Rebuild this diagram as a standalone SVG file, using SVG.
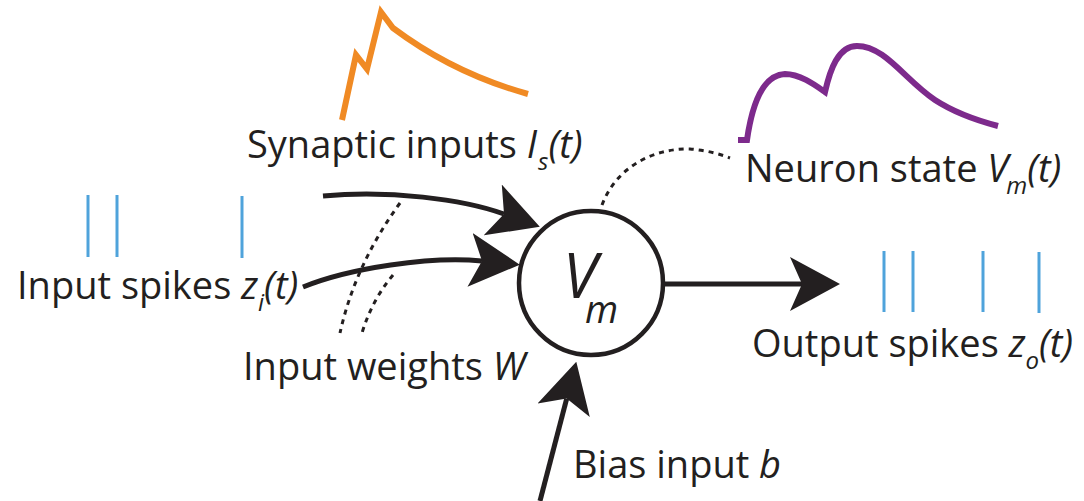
<svg xmlns="http://www.w3.org/2000/svg" width="1084" height="501" viewBox="0 0 1084 501">
<style>
text{font-family:"Open Sans","Noto Sans",sans-serif;font-size:38px;fill:#231F20}
.it{font-style:italic}
.sub{font-style:italic;font-size:24px}
.big{font-style:italic;font-size:62px}
.msub{font-style:italic;font-size:38px}
.conn{fill:none;stroke:#231F20;stroke-width:5}
.dot{fill:none;stroke:#231F20;stroke-width:3;stroke-dasharray:5 5}
.spike{stroke:#4FA3DB;stroke-width:3}
</style>
<defs>
<marker id="ah" markerUnits="userSpaceOnUse" viewBox="-50 -28 50 56" markerWidth="50" markerHeight="56" refX="-38" refY="0" orient="auto">
<path d="M0,0 L-50,-27 L-38,0 L-50,27 Z" fill="#231F20"/>
</marker>
</defs>
<rect width="1084" height="501" fill="#fff"/>
<g id="synaptic">
<path d="M342,120 L356,55 L367,69 L381,12 L393,28 C425,52 470,78 528,94" fill="none" stroke="#F08A24" stroke-width="6"/>
<text x="247" y="158">Synaptic inputs <tspan class="it">I</tspan><tspan class="sub" dx="1" dy="12">s</tspan><tspan class="it" dy="-12">(t)</tspan></text>
</g>
<g id="state">
<path d="M738,140 H747 C752,105 762,75 785,74 C800,74 815,85 825,92 C830,70 838,46 857,46 C885,46 905,80 935,100 C955,113 975,120 998,126" fill="none" stroke="#7D2A8C" stroke-width="6"/>
<text x="745" y="182">Neuron state <tspan class="it">V</tspan><tspan class="sub" dx="-2" dy="12">m</tspan><tspan class="it" dy="-12">(t)</tspan></text>
</g>
<g id="input-spikes">
<line class="spike" x1="88" y1="195" x2="88" y2="257"/>
<line class="spike" x1="117" y1="195" x2="117" y2="257"/>
<line class="spike" x1="242" y1="196" x2="242" y2="258"/>
<text x="17" y="299">Input spikes <tspan class="it">z</tspan><tspan class="sub" dy="12">i</tspan><tspan class="it" dy="-12">(t)</tspan></text>
</g>
<g id="weights">
<text x="243" y="380">Input weights <tspan class="it">W</tspan></text>
</g>
<g id="neuron">
<circle cx="591" cy="283" r="72" fill="#fff" stroke="#231F20" stroke-width="4.5"/>
<text x="563" y="298" class="big">V<tspan class="msub" dx="-12" dy="25">m</tspan></text>
</g>
<g id="output-spikes">
<line class="spike" x1="884" y1="251" x2="884" y2="312"/>
<line class="spike" x1="913" y1="251" x2="913" y2="312"/>
<line class="spike" x1="983" y1="251" x2="983" y2="312"/>
<line class="spike" x1="1039" y1="252" x2="1039" y2="313"/>
<text x="752" y="357">Output spikes <tspan class="it">z</tspan><tspan class="sub" dy="12">o</tspan><tspan class="it" dy="-12">(t)</tspan></text>
</g>
<g id="bias">
<text x="573" y="478">Bias input <tspan class="it">b</tspan></text>
</g>
<g id="connectors">
<path class="conn" d="M323,196 C390,190 462,199 504,214" marker-end="url(#ah)"/>
<path class="conn" d="M303,287 C350,268 430,256 482,261" marker-end="url(#ah)"/>
<path class="conn" d="M665,284 L802,284" marker-end="url(#ah)"/>
<path class="conn" d="M540,501 L566.7,398.6" marker-end="url(#ah)"/>
<path class="dot" d="M400,203 Q355,265 340,333"/>
<path class="dot" d="M393,275 Q372,300 362,333"/>
<path class="dot" d="M602,205 C615,170 650,148 690,149 C705,150 720,154 730,158"/>
</g>
</svg>
